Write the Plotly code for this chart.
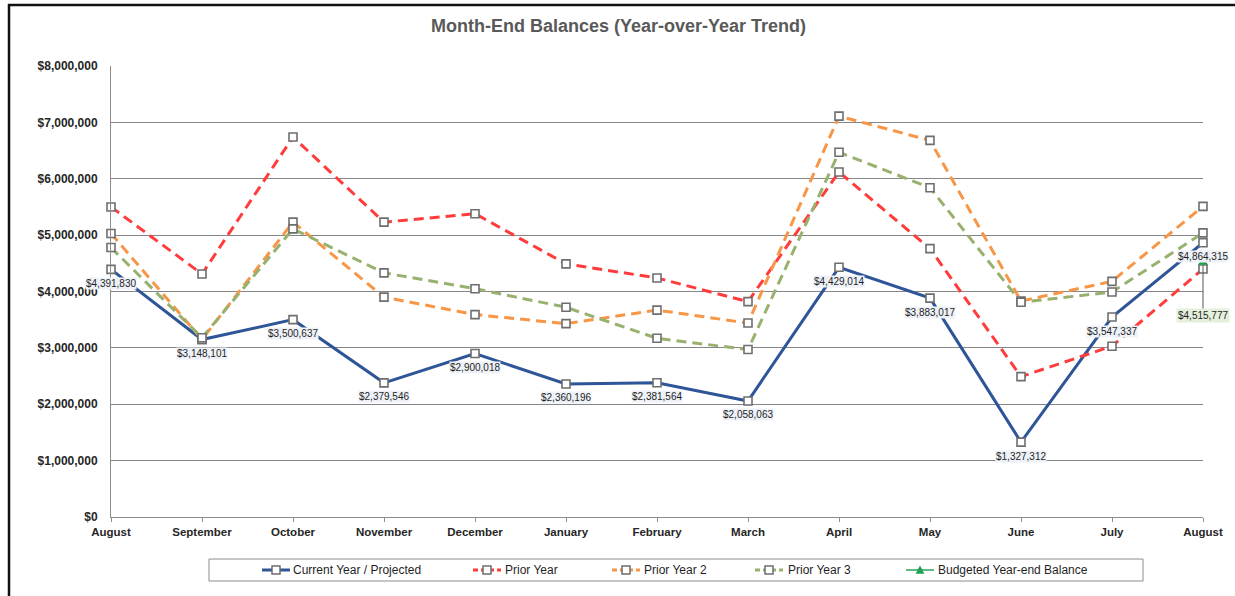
import plotly.graph_objects as go

# ---- data ----
months = ["August", "September", "October", "November", "December", "January",
          "February", "March", "April", "May", "June", "July", "August"]
current_year = [4391830, 3148101, 3500637, 2379546, 2900018, 2360196, 2381564,
                2058063, 4429014, 3883017, 1327312, 3547337, 4864315]
prior_year = [5500000, 4310000, 6740000, 5230000, 5380000, 4490000, 4240000,
              3820000, 6120000, 4760000, 2490000, 3030000, 4400000]
prior_year_2 = [5030000, 3150000, 5230000, 3900000, 3590000, 3430000, 3670000,
                3440000, 7110000, 6680000, 3830000, 4180000, 5510000]
prior_year_3 = [4780000, 3180000, 5110000, 4330000, 4050000, 3720000, 3170000,
                2970000, 6470000, 5840000, 3810000, 3990000, 5040000]
budget_month_index = 12
budget_balance = 4515777
y_ticks = [0, 1000000, 2000000, 3000000, 4000000, 5000000, 6000000, 7000000, 8000000]

FONT = "Liberation Sans, Arial, sans-serif"
x_idx = list(range(len(months)))

# plot-area geometry (pixels) used for paper-coordinate helpers
W, H = 1235, 596
L, R, T, B = 111, 1203, 66, 517


def px(x):
    return (x - L) / (R - L)


def py(y):
    return (B - y) / (B - T)


series = [
    ("Current Year / Projected", current_year, "#2E5597", "solid"),
    ("Prior Year", prior_year, "#FF3B3B", "10px,6px"),
    ("Prior Year 2", prior_year_2, "#F79646", "10px,6px"),
    ("Prior Year 3", prior_year_3, "#98B16E", "10px,6px"),
]

fig = go.Figure()
for name, vals, color, dash in series:
    fig.add_trace(go.Scatter(
        x=x_idx, y=vals, name=name, mode="lines+markers",
        line=dict(color=color, width=3, dash=dash),
        marker=dict(symbol="square", size=8, color="white",
                    line=dict(color="#6E6E6E", width=1.6)),
        cliponaxis=False, showlegend=False,
    ))

fig.add_trace(go.Scatter(
    x=[budget_month_index], y=[budget_balance], name="Budgeted Year-end Balance",
    mode="lines+markers", line=dict(color="#2FA35A", width=1.5),
    marker=dict(symbol="triangle-up", size=9, color="#1FA04F"),
    cliponaxis=False, showlegend=False,
))

# value labels for the current-year series
annotations = []
for i, v in enumerate(current_year):
    annotations.append(dict(
        x=i, y=v, xref="x", yref="y", text=f"${v:,}", showarrow=False,
        yshift=-14, font=dict(family=FONT, size=10, color="#1F1F1F"),
        bgcolor="#EEF2F8", borderpad=0,
    ))

# budget label with leader line
annotations.append(dict(
    x=budget_month_index, y=budget_balance, xref="x", yref="y",
    text=f"${budget_balance:,}", showarrow=True, arrowhead=0, arrowwidth=1,
    arrowcolor="#555555", ax=0, ay=53, standoff=3,
    font=dict(family=FONT, size=10, color="#1F1F1F"),
    bgcolor="#E4F0DC", borderpad=1,
))

# chart title
annotations.append(dict(
    x=px(618), y=py(26), xref="paper", yref="paper", showarrow=False,
    text="<b>Month-End Balances (Year-over-Year Trend)</b>",
    font=dict(family=FONT, size=18, color="#595959"),
    xanchor="center", yanchor="middle",
))

shapes = []
# outer chart frame
shapes.append(dict(type="rect", xref="paper", yref="paper",
                   x0=px(9), y0=py(640), x1=px(1260), y1=py(5),
                   line=dict(color="#111111", width=2.5), fillcolor="rgba(0,0,0,0)",
                   layer="below"))

# legend box and entries
legend_y = 570
shapes.append(dict(type="rect", xref="paper", yref="paper",
                   x0=px(209), y0=py(581), x1=px(1143), y1=py(559),
                   line=dict(color="#8C8C8C", width=1), fillcolor="white"))

legend_items = [
    ("Current Year / Projected", "#2E5597", "solid", "square", 262, 291),
    ("Prior Year", "#FF3B3B", "5px,3px", "square", 473, 503),
    ("Prior Year 2", "#F79646", "5px,3px", "square", 612, 642),
    ("Prior Year 3", "#98B16E", "5px,3px", "square", 755, 786),
    ("Budgeted Year-end Balance", "#2FA35A", "solid", "triangle", 906, 936),
]
for label, color, dash, sym, x0, xt in legend_items:
    shapes.append(dict(type="line", xref="paper", yref="paper",
                       x0=px(x0), x1=px(x0 + 28), y0=py(legend_y), y1=py(legend_y),
                       line=dict(color=color, width=3 if sym == "square" else 1.5,
                                 dash=dash)))
    cx = x0 + 14
    if sym == "square":
        shapes.append(dict(type="rect", xref="paper", yref="paper",
                           x0=px(cx - 4), x1=px(cx + 4),
                           y0=py(legend_y + 4), y1=py(legend_y - 4),
                           line=dict(color="#6E6E6E", width=1.5), fillcolor="white"))
    else:
        shapes.append(dict(type="path", xref="paper", yref="paper",
                           path=(f"M {px(cx - 4)},{py(legend_y + 3.5)} "
                                 f"L {px(cx + 4)},{py(legend_y + 3.5)} "
                                 f"L {px(cx)},{py(legend_y - 4)} Z"),
                           line=dict(color="#1FA04F", width=0.5), fillcolor="#1FA04F"))
    annotations.append(dict(
        x=px(xt), y=py(legend_y), xref="paper", yref="paper", text=label,
        showarrow=False, xanchor="left", yanchor="middle",
        font=dict(family=FONT, size=12, color="#1F1F1F"),
    ))

fig.update_layout(
    width=W, height=H,
    margin=dict(l=L, r=W - R, t=T, b=H - B, pad=0),
    paper_bgcolor="white", plot_bgcolor="white",
    showlegend=False,
    annotations=annotations, shapes=shapes,
    font=dict(family=FONT),
    xaxis=dict(
        range=[0, len(months) - 1], tickvals=x_idx, ticktext=months,
        showgrid=False, zeroline=False, showline=True,
        linecolor="#8C8C8C", linewidth=1,
        ticks="outside", ticklen=4, tickcolor="#8C8C8C",
        tickfont=dict(family=FONT, size=11.5, color="#262626", weight="bold"),
    ),
    yaxis=dict(
        range=[0, 8000000], tickvals=y_ticks,
        ticktext=[f"${v:,}" for v in y_ticks],
        showgrid=True, gridcolor="#868686", gridwidth=1,
        zeroline=False, showline=True, linecolor="#8C8C8C", linewidth=1,
        ticks="", ticklabelstandoff=10,
        tickfont=dict(family=FONT, size=12, color="#262626", weight="bold"),
    ),
)

fig.write_html("out.html")
